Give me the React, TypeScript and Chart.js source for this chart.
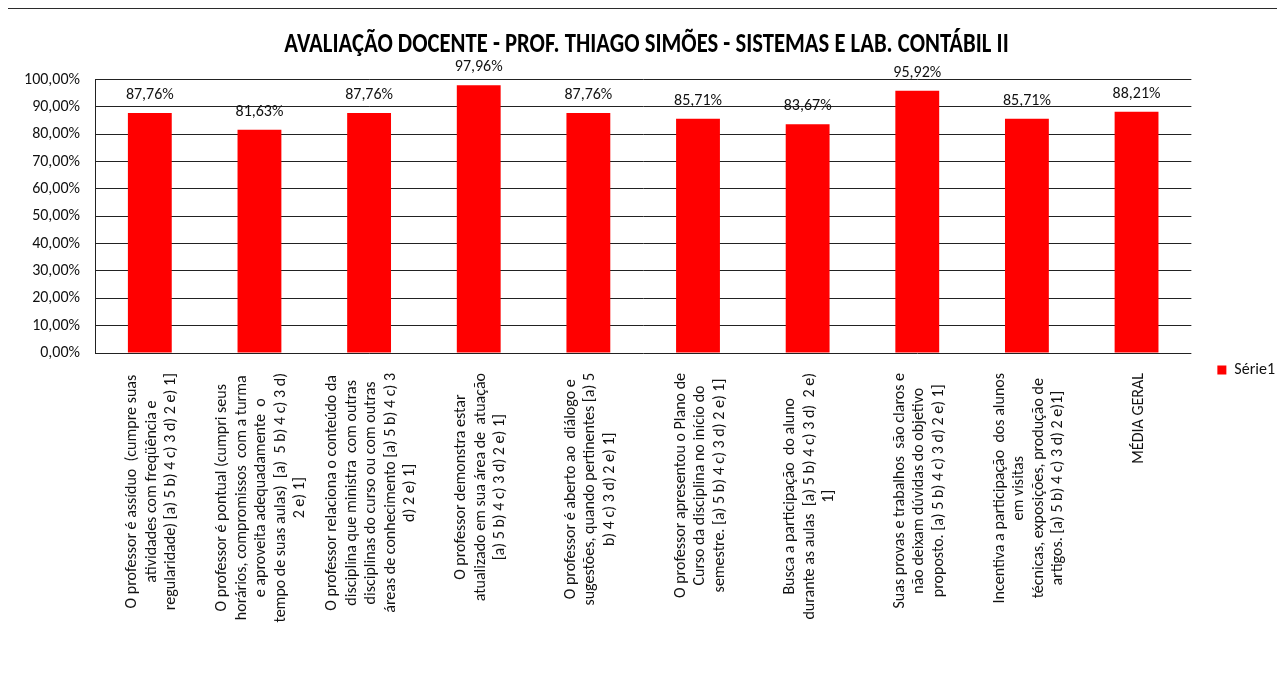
import React, { useEffect, useRef } from 'react';
import { Chart, registerables } from 'chart.js';

Chart.register(...registerables);

const TITLE = 'AVALIAÇÃO DOCENTE - PROF. THIAGO SIMÕES - SISTEMAS E LAB. CONTÁBIL II';
const SERIES_NAME = 'Série1';

const categories: string[][] = [
  ['O professor é assíduo  (cumpre suas', 'atividades com freqüência e', 'regularidade) [a) 5 b) 4 c) 3 d) 2 e) 1]'],
  ['O professor é pontual (cumpri seus', 'horários, compromissos  com a turma', 'e aproveita adequadamente  o', 'tempo de suas aulas)  [a)  5 b) 4 c) 3 d)', '2 e) 1]'],
  ['O professor relaciona o conteúdo da', 'disciplina que ministra  com outras', 'disciplinas do curso ou com outras', 'áreas de conhecimento [a) 5 b) 4 c) 3', 'd) 2 e) 1]'],
  ['O professor demonstra estar', 'atualizado em sua área de  atuação', '[a) 5 b) 4 c) 3 d) 2 e) 1]'],
  ['O professor é aberto ao  diálogo e', 'sugestões, quando pertinentes [a) 5', 'b) 4 c) 3 d) 2 e) 1]'],
  ['O professor apresentou o Plano de', 'Curso da disciplina no início do', 'semestre. [a) 5 b) 4 c) 3 d) 2 e) 1]'],
  ['Busca a participação  do aluno', 'durante as aulas  [a) 5 b) 4 c) 3 d)  2 e)', '1]'],
  ['Suas provas e trabalhos  são claros e', 'não deixam dúvidas do objetivo', 'proposto. [a) 5 b) 4 c) 3 d) 2 e) 1]'],
  ['Incentiva a participação  dos alunos', 'em visitas', 'técnicas, exposições, produção de', 'artigos. [a) 5 b) 4 c) 3 d) 2 e)1]'],
  ['MÉDIA GERAL'],
];

const values: number[] = [87.76, 81.63, 87.76, 97.96, 87.76, 85.71, 83.67, 95.92, 85.71, 88.21];

const Y_MIN = 0;
const Y_MAX = 100;
const Y_STEP = 10;

const FONT = "Carlito, Lato, 'Noto Sans', sans-serif";
const TITLE_FONT = "Carlito, Lato, sans-serif";

const fmt = (v: number) => v.toFixed(2).replace('.', ',') + '%';

// Title drawn condensed (narrow, tall letters) inside the space reserved by Chart.js' title block
const titlePlugin = {
  id: 'condensedTitle',
  afterDraw(chart: any) {
    const t = chart.titleBlock;
    if (!t) return;
    const ctx = chart.ctx;
    ctx.save();
    ctx.translate((t.left + t.right) / 2, t.top + 37);
    ctx.scale(0.81, 1);
    ctx.font = `bold 28px ${TITLE_FONT}`;
    ctx.fillStyle = '#000';
    ctx.textAlign = 'center';
    ctx.textBaseline = 'middle';
    ctx.fillText(TITLE, 0, 0);
    ctx.restore();
  },
};

const valueLabelPlugin = {
  id: 'valueLabels',
  afterDatasetsDraw(chart: any) {
    const ctx = chart.ctx;
    const meta = chart.getDatasetMeta(0);
    ctx.save();
    ctx.font = `16px ${FONT}`;
    ctx.fillStyle = '#111';
    ctx.textAlign = 'center';
    ctx.textBaseline = 'middle';
    meta.data.forEach((bar: any, i: number) => {
      ctx.fillText(fmt(values[i]), bar.x, bar.y - 18);
    });
    ctx.restore();
  },
};

const categoryLabelPlugin = {
  id: 'categoryLabels',
  afterDraw(chart: any) {
    const ctx = chart.ctx;
    const xs = chart.scales.x;
    const lh = 19.5;
    ctx.save();
    ctx.font = `16px ${FONT}`;
    ctx.fillStyle = '#111';
    ctx.textAlign = 'center';
    ctx.textBaseline = 'middle';
    categories.forEach((lines, i) => {
      const x = xs.getPixelForValue(i) + 2;
      const w = Math.max(...lines.map((l) => ctx.measureText(l).width));
      ctx.save();
      ctx.translate(x, xs.top + 20);
      ctx.rotate(-Math.PI / 2);
      lines.forEach((line, j) => {
        ctx.fillText(line, -w / 2, (j - (lines.length - 1) / 2) * lh);
      });
      ctx.restore();
    });
    ctx.restore();
  },
};

export default function App() {
  const canvasRef = useRef<HTMLCanvasElement | null>(null);

  useEffect(() => {
    document.documentElement.style.overflow = 'hidden';
    const canvas = canvasRef.current;
    if (!canvas) return;
    const chart = new Chart(canvas, {
      type: 'bar',
      data: {
        labels: categories.map((c) => c.join(' ')),
        datasets: [
          {
            label: SERIES_NAME,
            data: values,
            backgroundColor: '#FF0000',
            borderWidth: 0,
            barPercentage: 0.4,
            categoryPercentage: 1,
          },
        ],
      },
      options: {
        animation: false,
        responsive: true,
        maintainAspectRatio: false,
        layout: { padding: { left: 0, right: 0, top: 0, bottom: 0 } },
        plugins: {
          title: {
            display: true,
            text: TITLE,
            color: 'rgba(0,0,0,0)',
            font: { family: TITLE_FONT, size: 23, weight: 'bold' },
            padding: { top: 23, bottom: 21 },
          },
          legend: {
            display: true,
            position: 'right',
            align: 'center',
            labels: {
              boxWidth: 9,
              boxHeight: 9,
              padding: 26,
              color: '#111',
              font: { family: FONT, size: 16 },
            },
          },
          tooltip: { enabled: false },
        },
        scales: {
          x: {
            type: 'category',
            grid: { display: false },
            border: { display: false },
            ticks: { display: false },
            afterFit: (s: any) => {
              s.height = 379;
            },
          },
          y: {
            min: Y_MIN,
            max: Y_MAX,
            ticks: {
              stepSize: Y_STEP,
              callback: (v: any) => fmt(Number(v)),
              color: '#111',
              font: { family: FONT, size: 16 },
              padding: 15,
            },
            grid: { color: '#222', lineWidth: 1, drawTicks: false },
            border: { display: true, color: '#222', width: 1 },
            afterFit: (s: any) => {
              s.width = 87;
            },
          },
        },
      },
      plugins: [titlePlugin, valueLabelPlugin, categoryLabelPlugin],
    });
    return () => chart.destroy();
  }, []);

  return (
    <div style={{ position: 'relative', width: 1277, height: 663 }}>
      <div
        style={{
          position: 'absolute',
          left: -4,
          top: -1,
          width: 1290,
          height: 700,
          borderLeft: '2px solid #2b2b2b',
          borderTop: '2px solid #2b2b2b',
        }}
      />
      <div style={{ position: 'absolute', left: 0, top: 0, width: 1277, height: 671, overflow: 'hidden' }}>
        <div style={{ position: 'relative', width: 1277, height: 724 }}>
          <canvas ref={canvasRef} />
        </div>
      </div>
    </div>
  );
}
